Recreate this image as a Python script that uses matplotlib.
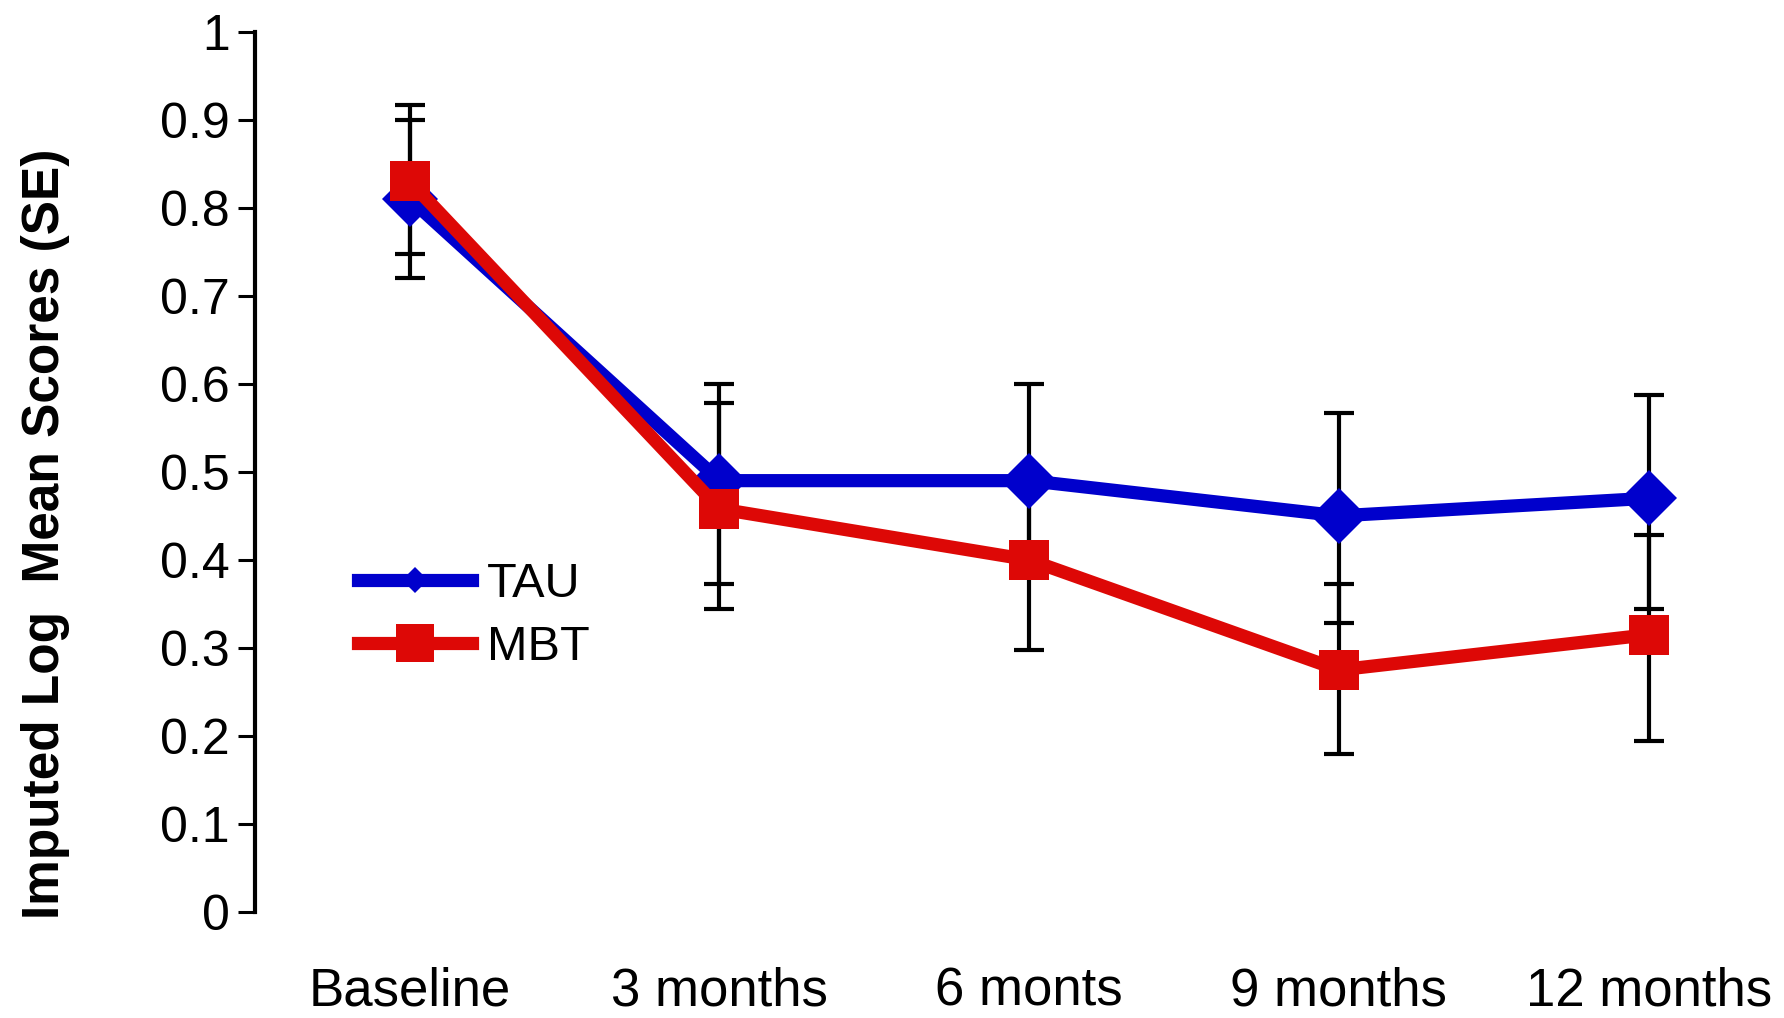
import matplotlib
matplotlib.use("Agg")
import matplotlib.pyplot as plt
from matplotlib.lines import Line2D
import numpy as np

# ==========================================
# DATA
# ==========================================

timepoints = ["Baseline", "3 months", "6 monts", "9 months", "12 months"]

tau_mean = [0.81, 0.49, 0.49, 0.45, 0.47]
tau_hi = [0.90, 0.60, 0.60, 0.567, 0.587]
tau_lo = [0.72, 0.373, 0.39, 0.328, 0.344]

mbt_mean = [0.83, 0.458, 0.40, 0.275, 0.315]
mbt_hi = [0.917, 0.578, 0.49, 0.373, 0.428]
mbt_lo = [0.747, 0.344, 0.298, 0.179, 0.194]

y_ticks = [0, 0.1, 0.2, 0.3, 0.4, 0.5, 0.6, 0.7, 0.8, 0.9, 1]
y_tick_labels = ["0", "0.1", "0.2", "0.3", "0.4", "0.5", "0.6", "0.7", "0.8", "0.9", "1"]

BLUE = "#0000CC"
RED = "#DD0806"

plt.rcParams["font.family"] = ["Liberation Sans", "DejaVu Sans"]

# ==========================================
# FIGURE
# ==========================================

fig = plt.figure(figsize=(17.84, 10.18), dpi=100)
ax = fig.add_axes([0.1429, 0.1041, 0.8680, 0.8648])

x = np.arange(len(timepoints))

tau_err = [np.array(tau_mean) - np.array(tau_lo), np.array(tau_hi) - np.array(tau_mean)]
mbt_err = [np.array(mbt_mean) - np.array(mbt_lo), np.array(mbt_hi) - np.array(mbt_mean)]

ax.errorbar(x, tau_mean, yerr=tau_err, fmt="none", ecolor="black",
            elinewidth=3, capsize=11, capthick=3, zorder=1)
ax.errorbar(x, mbt_mean, yerr=mbt_err, fmt="none", ecolor="black",
            elinewidth=3, capsize=11, capthick=3, zorder=1)

ax.plot(x, tau_mean, color=BLUE, lw=9.5, marker="D", ms=28.5,
        mew=0, solid_joinstyle="miter", zorder=2, clip_on=False)
ax.plot(x, mbt_mean, color=RED, lw=9.5, marker="s", ms=28.8,
        mew=0, solid_joinstyle="miter", zorder=3, clip_on=False)

ax.set_xlim(-0.5, 4.5)
ax.set_ylim(0, 1)

ax.set_xticks(x)
ax.set_xticklabels(timepoints, fontsize=38)
ax.tick_params(axis="x", length=0, pad=39)

ax.set_yticks(y_ticks)
ax.set_yticklabels(y_tick_labels, fontsize=36)
ax.tick_params(axis="y", length=12, width=2.2, pad=6, direction="out")

for side in ["top", "right", "bottom"]:
    ax.spines[side].set_visible(False)
ax.spines["left"].set_linewidth(3)

fig.text(46 / 1784, 1 - 534 / 1018, "Imputed Log  Mean Scores (SE)",
         rotation=90, ha="center", va="center", fontsize=37, fontweight="bold")

# legend (smaller diamond than the plot markers, like the original)
handles = [
    Line2D([], [], color=BLUE, lw=9.5, marker="D", ms=13.7, mew=0),
    Line2D([], [], color=RED, lw=9.5, marker="s", ms=28, mew=0),
]
ax.legend(handles, ["TAU", "MBT"], loc="upper left",
          bbox_to_anchor=(358 / 1784, 1 - 562 / 1018), bbox_transform=fig.transFigure,
          frameon=False, fontsize=35, handlelength=2.35, handletextpad=0.3,
          borderpad=0, borderaxespad=0, labelspacing=0.37)

fig.savefig("out.png", dpi=100)
